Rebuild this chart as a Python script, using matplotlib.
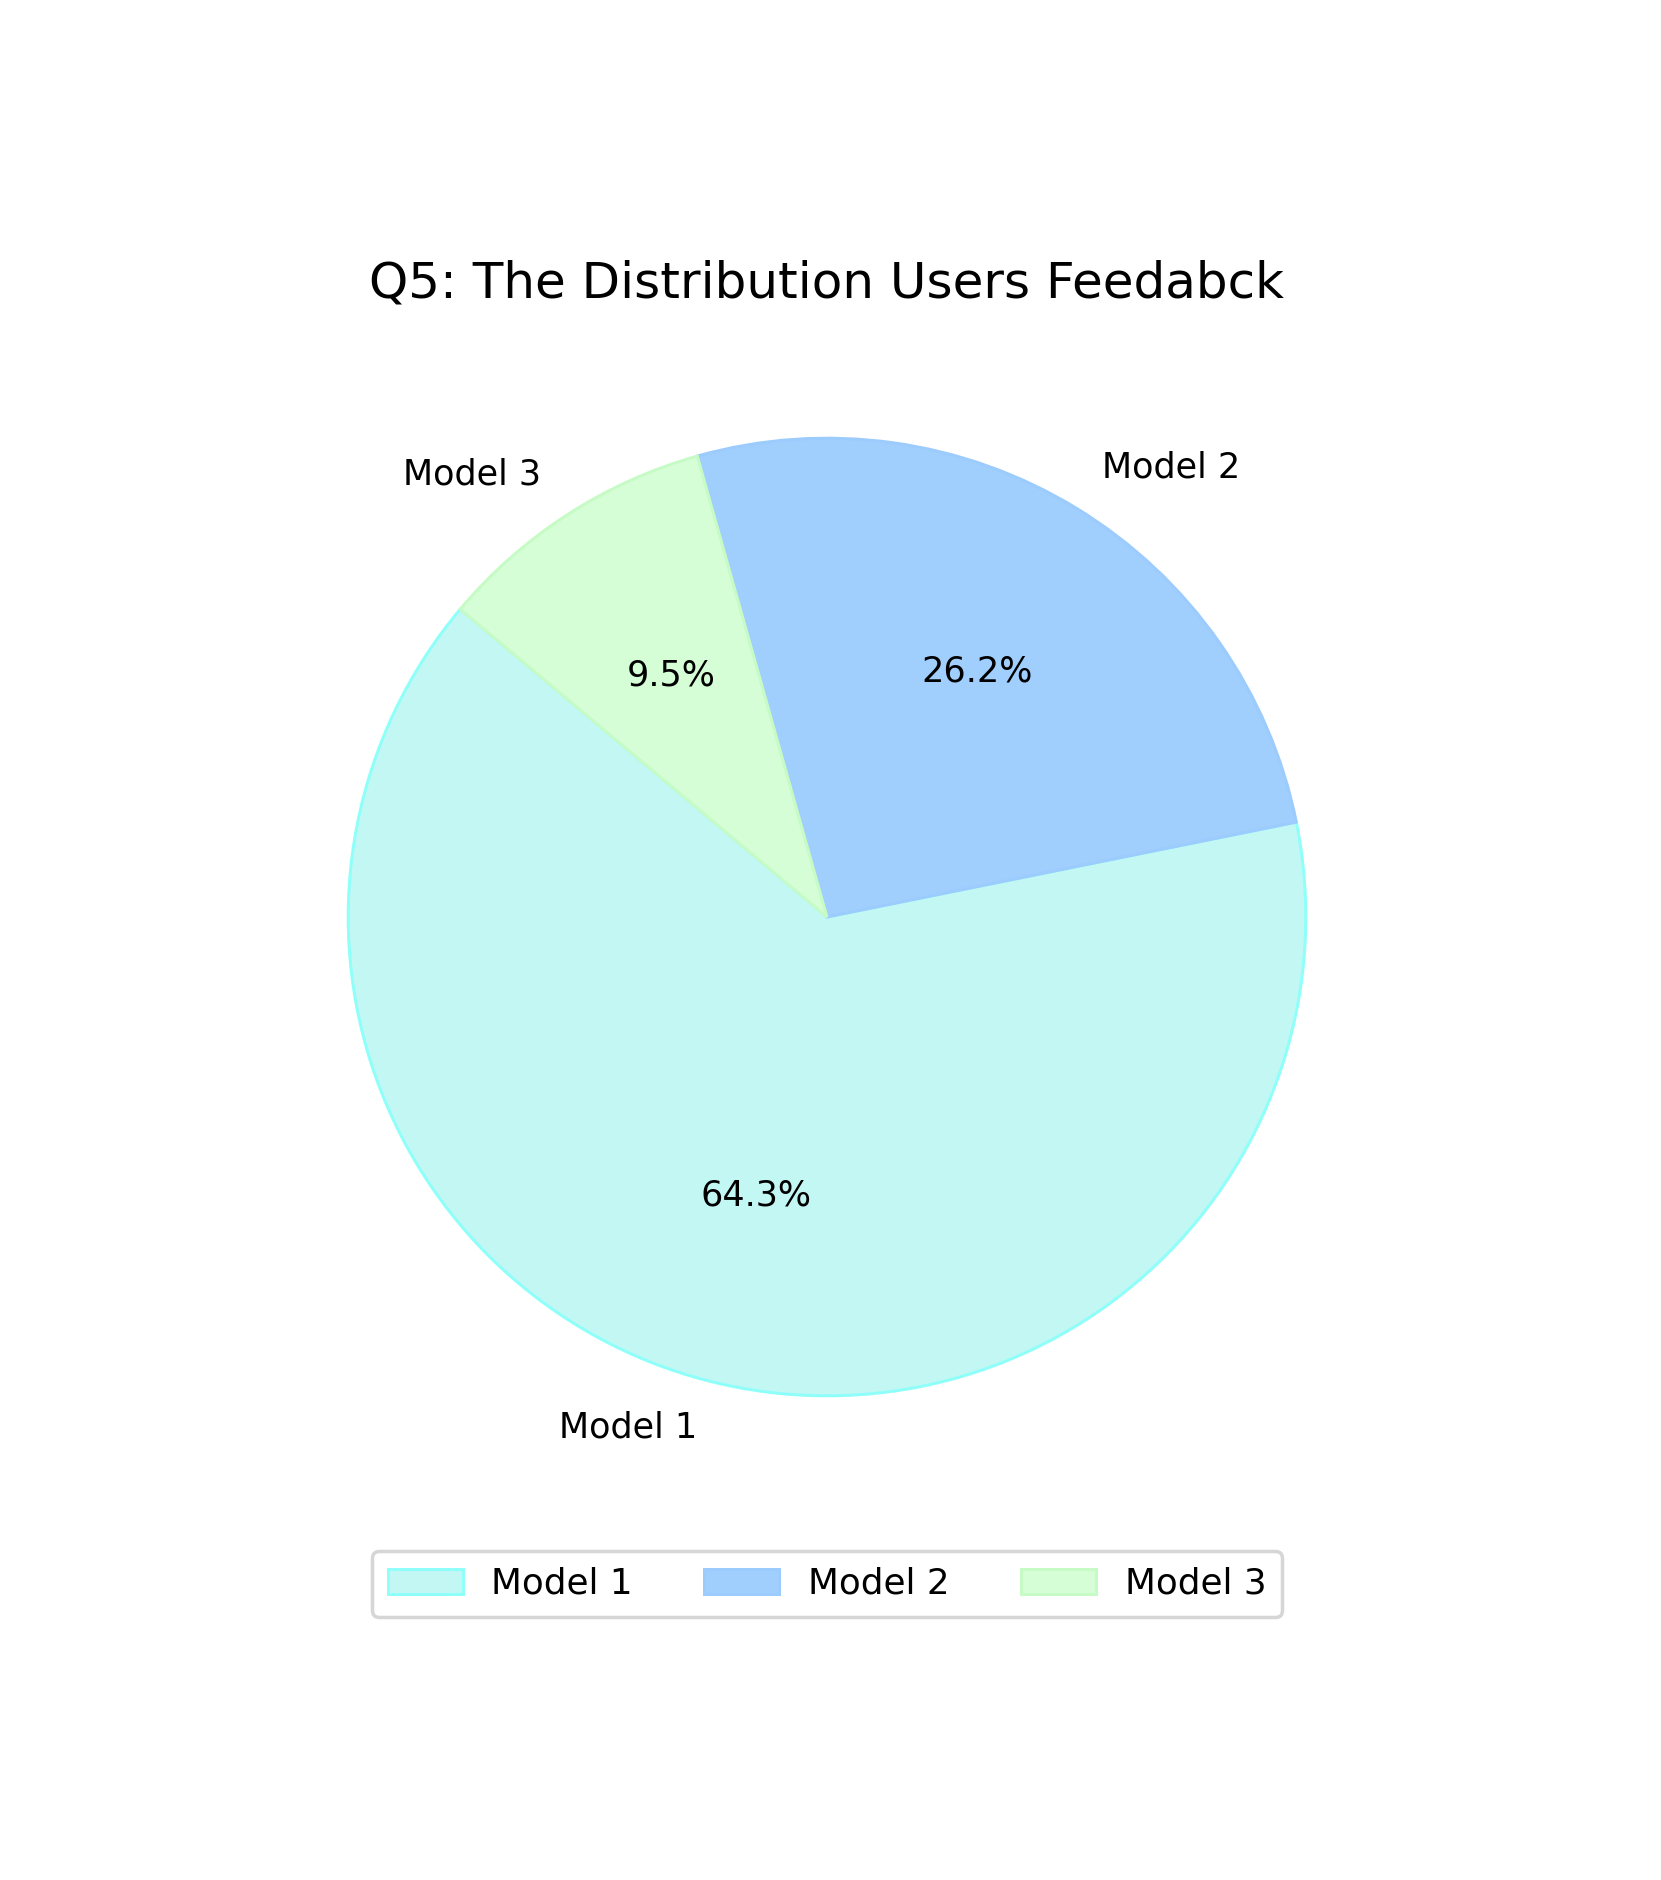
import matplotlib
matplotlib.use("Agg")
import matplotlib.pyplot as plt

labels = ["Model 1", "Model 2", "Model 3"]
counts = [27, 11, 4]
face_colors = ["#c3f7f4", "#a0cefd", "#d5fdd6"]
edge_colors = ["#8efff9", "#9ccbfd", "#c6fbc6"]
title = "Q5: The Distribution Users Feedabck"

DPI = 180
fig = plt.figure(figsize=(1662 / DPI, 1880 / DPI), dpi=DPI)
w = 1197 / 1662
h = 1197 / 1880
cx, cy = 827 / 1662, 963 / 1880
ax = fig.add_axes([cx - w / 2, cy - h / 2, w, h])

wedges, texts, autotexts = ax.pie(
    counts, labels=labels, colors=face_colors, autopct="%1.1f%%",
    startangle=140, textprops={"fontsize": 14},
    wedgeprops={"linewidth": 1.2},
)
for wdg, ec in zip(wedges, edge_colors):
    wdg.set_edgecolor(ec)
ax.set_aspect("equal")
ax.set_title(title, fontsize=20, pad=8.5)

leg = fig.legend(wedges, labels, loc="center", bbox_to_anchor=(cx, 1 - 1584 / 1880),
                 ncol=3, fontsize=14.3, frameon=True, handlelength=2.1,
                 columnspacing=2.0, handletextpad=0.8, borderpad=0.45)
leg.get_frame().set_edgecolor("#cccccc")
leg.get_frame().set_linewidth(1.4)

fig.savefig("out.png", dpi=DPI)
